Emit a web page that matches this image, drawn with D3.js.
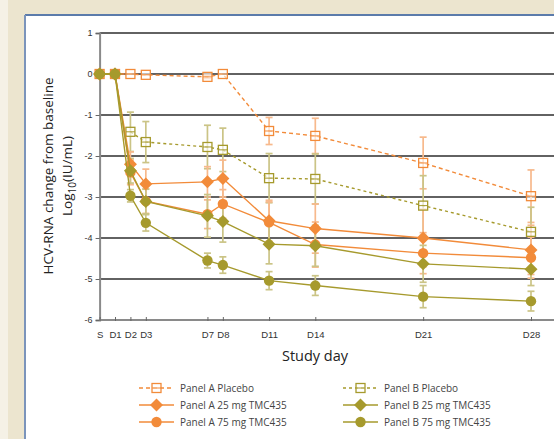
<!DOCTYPE html>
<html>
<head>
<meta charset="utf-8">
<script src="https://cdn.jsdelivr.net/npm/d3@7"></script>
<style>
  body { margin: 0; background: #ece5cf; }
  svg { display: block; font-family: "Open Sans", "Noto Sans", sans-serif; }
</style>
</head>
<body>
<svg width="554" height="439"></svg>
<script>
// study days and tick labels
var days = [0, 1, 2, 3, 7, 8, 11, 14, 21, 28]
var dayLabels = ["S", "D1", "D2", "D3", "D7", "D8", "D11", "D14", "D21", "D28"]
var yTicks = [1, 0, -1, -2, -3, -4, -5, -6]

// mean change per series (null = no point)
var aPlacebo = [0, 0, 0, -0.02, -0.07, 0, -1.39, -1.51, -2.17, -2.98]
var aPlaceboErr = [0, 0, 0, 0, 0.04, 0, 0.33, 0.43, 0.63, 0.64]
var bPlacebo = [null, null, -1.41, -1.66, -1.78, -1.85, -2.54, -2.56, -3.21, -3.85]
var bPlaceboErr = [0, 0, 0.48, 0.5, 0.53, 0.53, 0.6, 0.61, 0.73, 0.6]
var a25 = [0, 0, -2.2, -2.68, -2.63, -2.55, -3.58, -3.77, -4.0, -4.29]
var a25Err = [0, 0, 0.3, 0.36, 0.37, 0.45, 0.5, 0.6, 0.7, 0.6]
var a75 = [0, 0, -2.4, -3.1, -3.42, -3.17, -3.62, -4.16, -4.37, -4.48]
var a75Err = [0, 0, 0.3, 0.3, 0.35, 0.35, 0.5, 0.55, 0.5, 0.5]
var b25 = [0, 0, -2.36, -3.11, -3.46, -3.6, -4.15, -4.19, -4.63, -4.76]
var b25Err = [0, 0, 0.3, 0.3, 0.52, 0.5, 0.48, 0.5, 0.45, 0.4]
var b75 = [0, 0, -2.97, -3.63, -4.55, -4.66, -5.04, -5.16, -5.43, -5.54]
var b75Err = [0, 0, 0.15, 0.2, 0.18, 0.2, 0.22, 0.24, 0.27, 0.24]

var orange = "#f28b3a", olive = "#a69a2d"
var orangeErr = "#f7b98c", oliveErr = "#cbc486"

var series = [
  {name: "Panel A Placebo", values: aPlacebo, err: aPlaceboErr, color: orange, ecolor: orangeErr, dash: "4,3", shape: "square"},
  {name: "Panel B Placebo", values: bPlacebo, err: bPlaceboErr, color: olive, ecolor: oliveErr, dash: "3,3", shape: "square"},
  {name: "Panel A 25 mg TMC435", values: a25, err: a25Err, color: orange, ecolor: orangeErr, dash: null, shape: "diamond"},
  {name: "Panel A 75 mg TMC435", values: a75, err: a75Err, color: orange, ecolor: orangeErr, dash: null, shape: "circle"},
  {name: "Panel B 25 mg TMC435", values: b25, err: b25Err, color: olive, ecolor: oliveErr, dash: null, shape: "diamond"},
  {name: "Panel B 75 mg TMC435", values: b75, err: b75Err, color: olive, ecolor: oliveErr, dash: null, shape: "circle"}
]

var svg = d3.select("svg")

// page frame
svg.append("rect").attr("x", 0).attr("y", 0).attr("width", 8).attr("height", 439).attr("fill", "#f5f1e6")
svg.append("rect").attr("x", 25).attr("y", 15).attr("width", 529).attr("height", 424).attr("fill", "#fff")
svg.append("line").attr("x1", 25).attr("x2", 554).attr("y1", 15).attr("y2", 15).attr("stroke", "#5b7bab").attr("stroke-width", 2)
svg.append("line").attr("x1", 25).attr("x2", 25).attr("y1", 15).attr("y2", 439).attr("stroke", "#7b94bb").attr("stroke-width", 2)

var x = d3.scaleLinear().domain([0, 28]).range([99.6, 531])
var y = d3.scaleLinear().domain([-6, 1]).range([320, 33])

// gridlines
svg.append("g").selectAll("line")
  .data(yTicks.filter(d => d > -6))
  .enter().append("line")
    .attr("x1", x(0)).attr("x2", 554)
    .attr("y1", d => y(d)).attr("y2", d => y(d))
    .attr("stroke", "#2e2e2e").attr("stroke-width", 1.7)

// y axis
var yAxis = svg.append("g")
  .attr("transform", `translate(${x(0)},0)`)
  .call(d3.axisLeft(y).tickValues(yTicks).tickSize(4).tickFormat(d => d))
yAxis.select(".domain").attr("stroke", "#8a8a8a").attr("stroke-width", 2)
yAxis.selectAll(".tick line").attr("stroke", "#666")
yAxis.selectAll(".tick text").attr("fill", "#333").style("font-size", "9px").attr("x", -7)

// x axis
var xAxis = svg.append("g")
  .attr("transform", `translate(0,${y(-6)})`)
  .call(d3.axisBottom(x).tickValues(days).tickSize(0).tickFormat((d, i) => dayLabels[i]))
xAxis.select(".domain").attr("d", `M${x(0)},0H554`).attr("stroke", "#8a8a8a").attr("stroke-width", 2)
xAxis.selectAll(".tick line").attr("y1", -3).attr("y2", 1).attr("stroke", "#666")
xAxis.selectAll(".tick text").attr("fill", "#333").style("font-size", "9.5px").attr("dy", "0.71em").attr("y", 11)

// axis titles
svg.append("text")
  .attr("x", 315).attr("y", 361)
  .attr("text-anchor", "middle")
  .attr("fill", "#222")
  .style("font-size", "14.5px")
  .text("Study day")

var ylab = svg.append("text")
  .attr("transform", "translate(53,176) rotate(-90)")
  .attr("text-anchor", "middle")
  .attr("fill", "#222")
  .style("font-size", "13.5px")
ylab.append("tspan").attr("x", 0).attr("y", 0).text("HCV-RNA change from baseline")
var l2 = ylab.append("tspan").attr("x", 0).attr("y", 19).text("Log")
l2.append("tspan").attr("dy", 4).style("font-size", "10px").text("10")
l2.append("tspan").attr("dy", -4).text("(IU/mL)")

var line = d3.line()
  .defined(d => d != null)
  .x((d, i) => x(days[i]))
  .y(d => y(d))

function drawMarker(g, shape, color) {
  if (shape == "square") {
    g.append("rect").attr("x", -4.5).attr("y", -4.5).attr("width", 9).attr("height", 9)
      .attr("fill", "#fff").attr("fill-opacity", 0.6).attr("stroke", color).attr("stroke-width", 1.3)
    g.append("line").attr("x1", -4.5).attr("x2", 4.5).attr("stroke", color).attr("stroke-width", 1)
  } else if (shape == "diamond") {
    g.append("path").attr("d", "M0,-6.5L6.5,0L0,6.5L-6.5,0Z").attr("fill", color)
  } else {
    g.append("circle").attr("r", 5.2).attr("fill", color)
  }
}

// error bars
series.forEach(s => {
  var g = svg.append("g").attr("stroke", s.ecolor).attr("stroke-width", 1.7)
  s.values.forEach((v, i) => {
    if (v == null || !s.err[i]) return
    var e = s.err[i], cx = x(days[i])
    g.append("line").attr("x1", cx).attr("x2", cx).attr("y1", y(v + e)).attr("y2", y(v - e))
    g.append("line").attr("x1", cx - 3.5).attr("x2", cx + 3.5).attr("y1", y(v + e)).attr("y2", y(v + e))
    g.append("line").attr("x1", cx - 3.5).attr("x2", cx + 3.5).attr("y1", y(v - e)).attr("y2", y(v - e))
  })
})

// lines and markers
series.forEach(s => {
  svg.append("path")
    .attr("d", line(s.values))
    .attr("fill", "none")
    .attr("stroke", s.color)
    .attr("stroke-width", 1.4)
    .attr("stroke-dasharray", s.dash)
  s.values.forEach((v, i) => {
    if (v == null) return
    var g = svg.append("g").attr("transform", `translate(${x(days[i])},${y(v)})`)
    drawMarker(g, s.shape, s.color)
  })
})

// legend
var legendCols = [139, 343]
var legendRows = [388, 405, 422]
var legendOrder = [[0, 2, 3], [1, 4, 5]]
legendOrder.forEach((col, c) => {
  col.forEach((si, r) => {
    var s = series[si]
    var g = svg.append("g").attr("transform", `translate(${legendCols[c]},${legendRows[r]})`)
    g.append("line").attr("x1", 0).attr("x2", 35)
      .attr("stroke", s.color).attr("stroke-width", 1.4).attr("stroke-dasharray", s.dash)
    var m = g.append("g").attr("transform", "translate(17.5,0)")
    drawMarker(m, s.shape, s.color)
    g.append("text").attr("x", 41).attr("y", 3.5)
      .attr("fill", "#444").style("font-size", "10px")
      .text(s.name)
  })
})
</script>
</body>
</html>
